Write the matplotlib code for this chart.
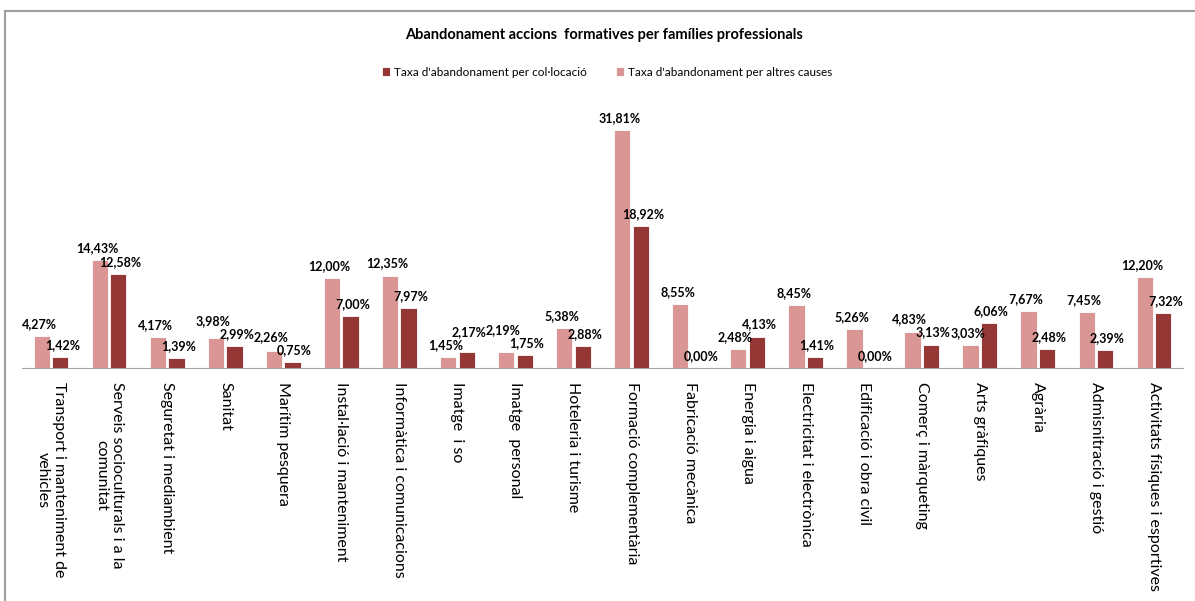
import matplotlib.pyplot as plt
import numpy as np
from matplotlib.lines import Line2D

plt.rcParams['font.family'] = ['Lato', 'DejaVu Sans']

families = [
    "Transport i manteniment de\nvehicles",
    "Serveis socioculturals i a la\ncomunitat",
    "Seguretat i mediambient",
    "Sanitat",
    "Marítim pesquera",
    "Instal·lació i manteniment",
    "Informàtica i comunicacions",
    "Imatge  i so",
    "Imatge  personal",
    "Hoteleria i turisme",
    "Formació complementària",
    "Fabricació mecànica",
    "Energia i aigua",
    "Electricitat i electrònica",
    "Edificació i obra civil",
    "Comerç i màrqueting",
    "Arts gràfiques",
    "Agrària",
    "Admisnitració i gestió",
    "Activitats físiques i esportives",
]
altres_causes = [4.27, 14.43, 4.17, 3.98, 2.26, 12.00, 12.35, 1.45, 2.19, 5.38,
                 31.81, 8.55, 2.48, 8.45, 5.26, 4.83, 3.03, 7.67, 7.45, 12.20]
collocacio = [1.42, 12.58, 1.39, 2.99, 0.75, 7.00, 7.97, 2.17, 1.75, 2.88,
              18.92, 0.00, 4.13, 1.41, 0.00, 3.13, 6.06, 2.48, 2.39, 7.32]

pink = "#D99694"
dark = "#953735"

fig = plt.figure(figsize=(11.95, 6.01), dpi=100)
ax = fig.add_axes([22/1195, 233/601, 1161/1195, 262/601])
ymax = 35
px_per_unit = 262 / ymax
pt = 100 / 72  # px per point

x = np.arange(len(families))
w = 0.28
b1 = ax.bar(x - w/2 - 0.02, altres_causes, w, color=pink, edgecolor="white", linewidth=0.6,
            label="Taxa d'abandonament per altres causes")
b2 = ax.bar(x + w/2 + 0.02, collocacio, w, color=dark, edgecolor="white", linewidth=0.6,
            label="Taxa d'abandonament per col·locació")

def fmt(v):
    return ("%.2f%%" % v).replace(".", ",")

# stack labels like Excel does: the taller bar's label sits above the shorter one's
gap, lab_h = 6, 13
for r1, r2, a, c in zip(b1, b2, altres_causes, collocacio):
    ya, yc = a * px_per_unit, c * px_per_unit
    if a >= c:
        off_c = gap
        off_a = max(ya + gap, yc + gap + lab_h) - ya
    else:
        off_a = gap
        off_c = max(yc + gap, ya + gap + lab_h) - yc
    ax.annotate(fmt(a), (r1.get_x() + r1.get_width()/2, a), xytext=(-2, off_a / pt),
                textcoords="offset points", ha="center", va="bottom",
                fontsize=9, fontweight="bold")
    ax.annotate(fmt(c), (r2.get_x() + r2.get_width()/2, c), xytext=(1.5, off_c / pt),
                textcoords="offset points", ha="center", va="bottom",
                fontsize=9, fontweight="bold")

ax.set_xlim(-0.5, len(families) - 0.5)
ax.set_ylim(0, ymax)
ax.set_xticks(x)
ax.set_xticklabels(families, rotation=270, fontsize=11.5, ha="center", va="top",
                   multialignment="center")
ax.tick_params(axis="x", length=0, pad=10)
ax.set_yticks([])
for s in ["top", "right", "left"]:
    ax.spines[s].set_visible(False)
ax.spines["bottom"].set_color("#A6A6A6")

fig.text(0.5055, 1 - 35/601, "Abandonament accions  formatives per famílies professionals",
         ha="center", va="center", fontsize=10.5, fontweight="bold")

handles = [b2, b1]
fig.legend(handles, [h.get_label() for h in handles], loc="center", ncol=2,
           bbox_to_anchor=(0.508, 1 - 72/601), frameon=False, fontsize=8.5,
           handlelength=0.7, handleheight=0.7, handletextpad=0.3, columnspacing=2.5)

# chart border
fig.add_artist(Line2D([5/1195, 5/1195], [0, 1 - 11/601], color="#A0A0A0", lw=1.5))
fig.add_artist(Line2D([5/1195, 1194/1195], [1 - 11/601, 1 - 11/601], color="#A0A0A0", lw=1.5))

fig.savefig("out.png", dpi=100)
